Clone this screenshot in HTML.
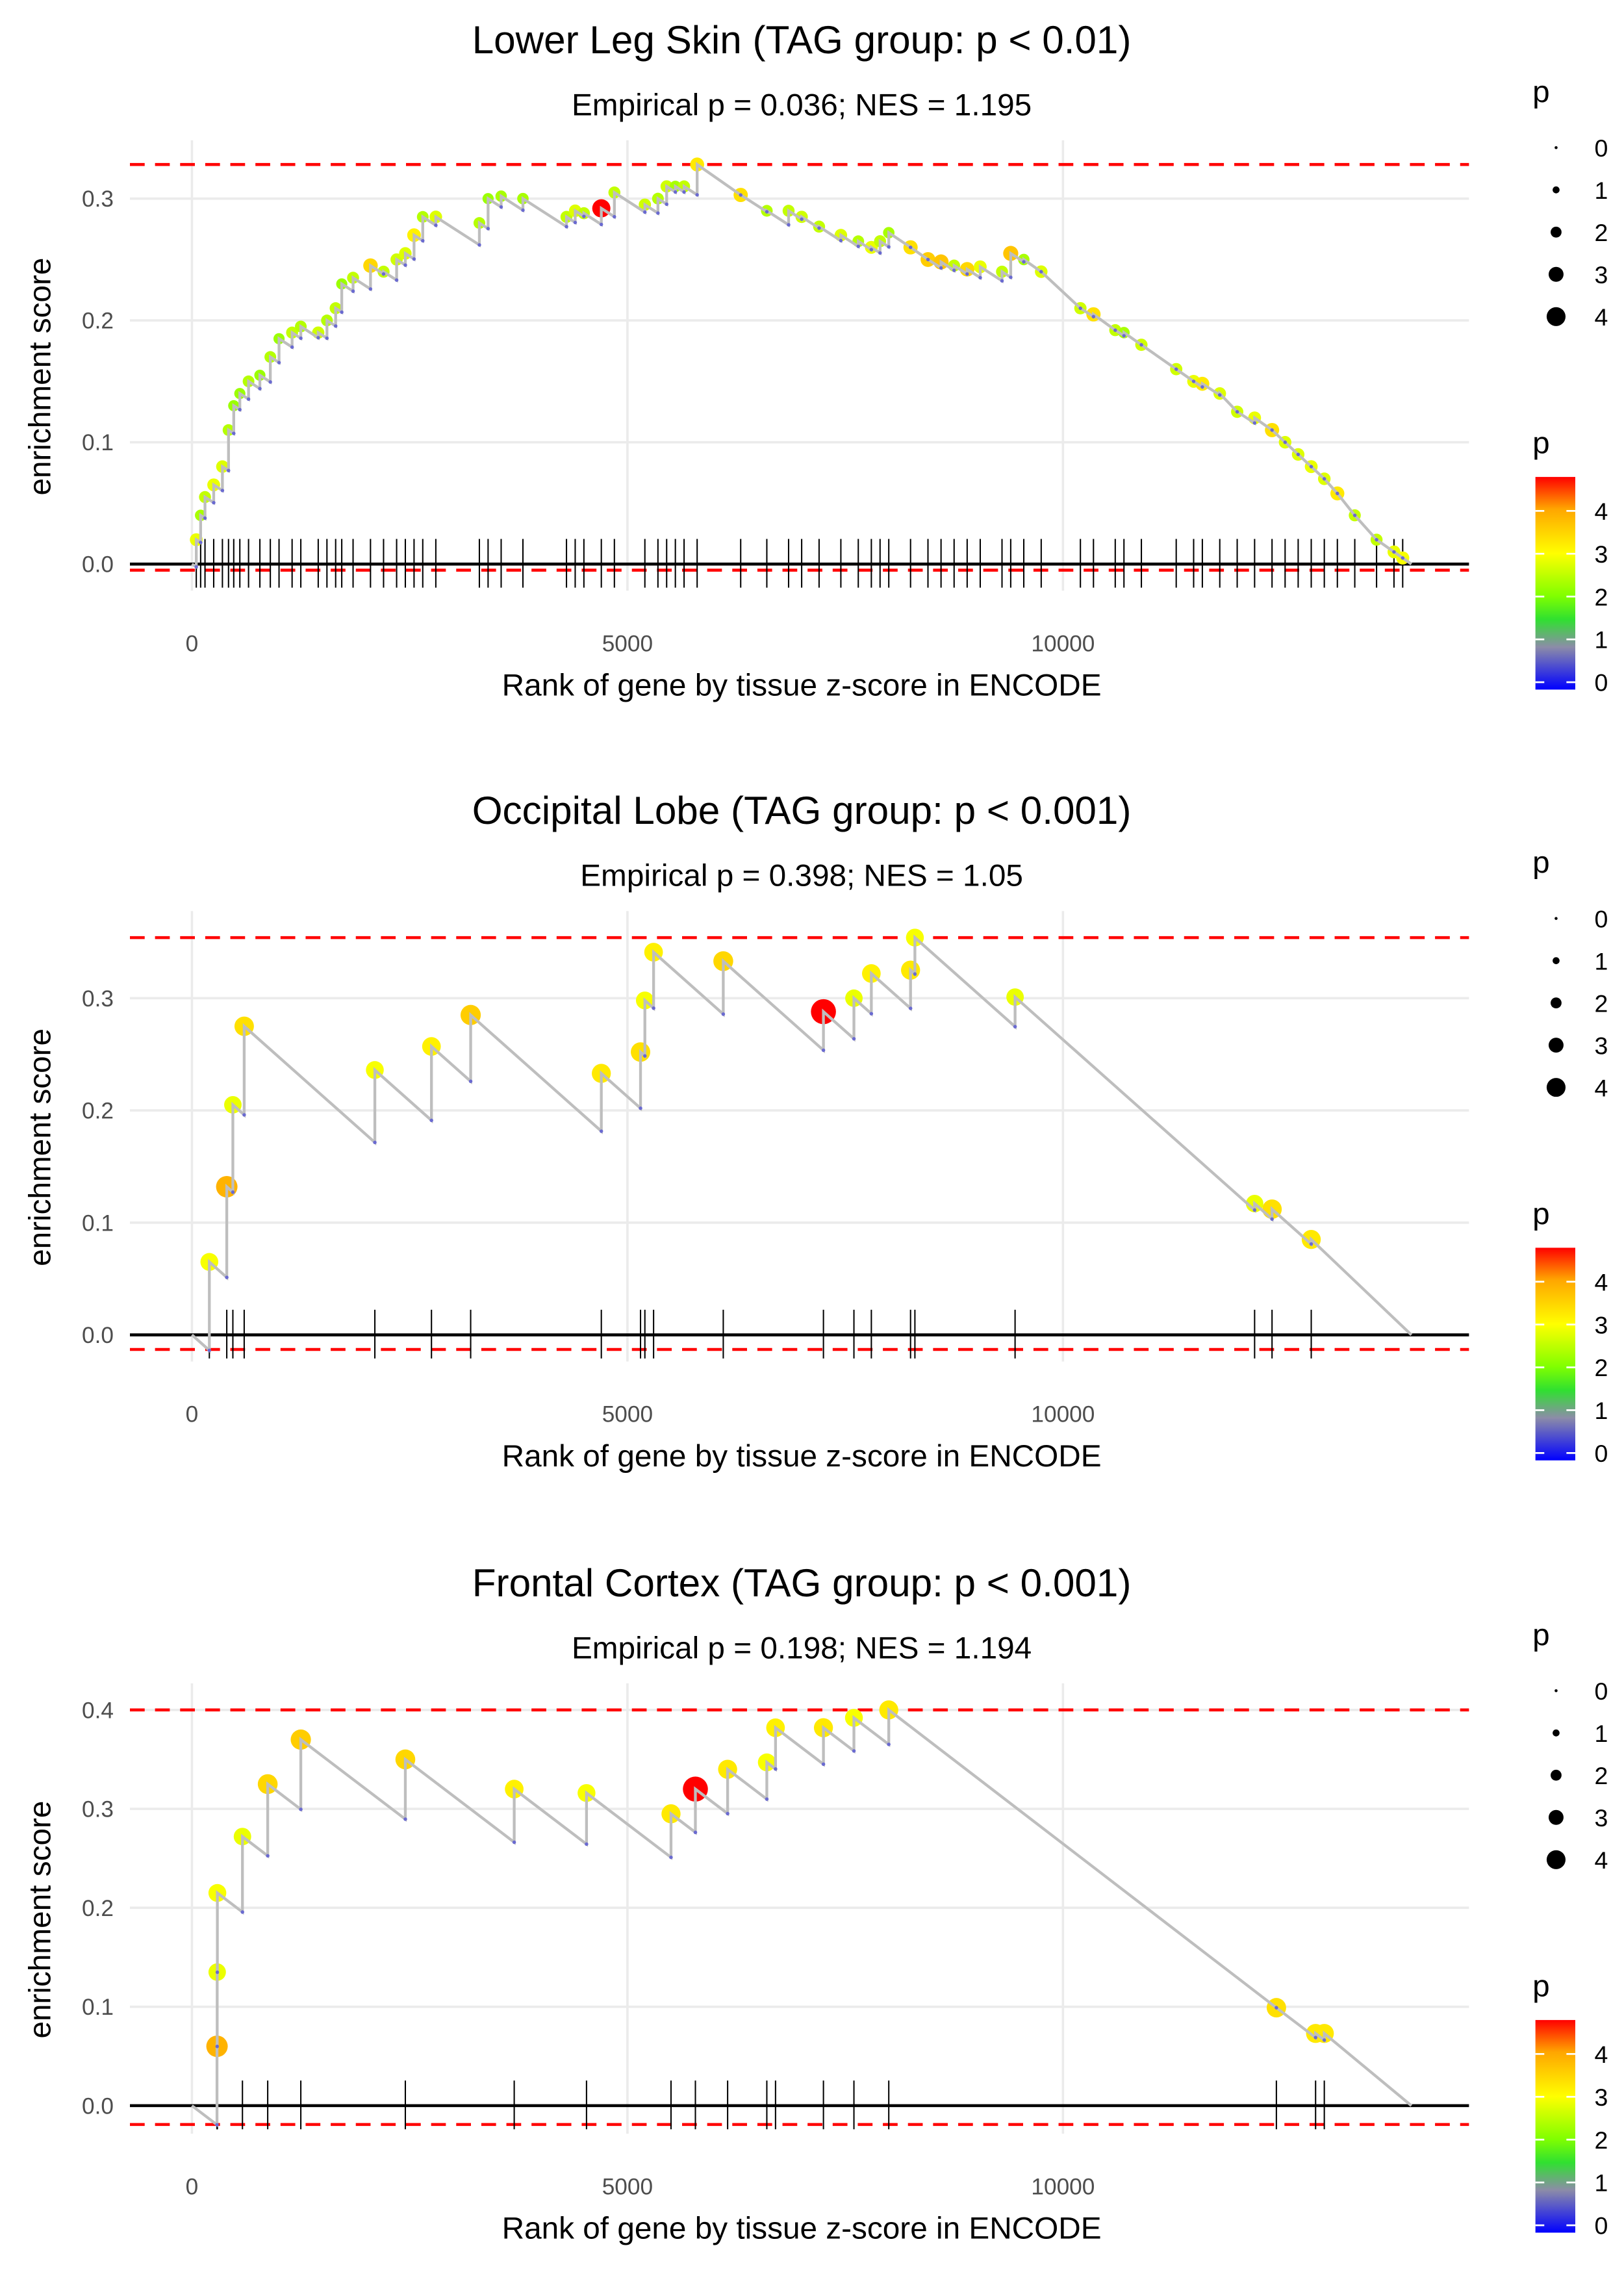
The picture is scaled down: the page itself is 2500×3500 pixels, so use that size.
<!DOCTYPE html>
<html><head><meta charset="utf-8"><style>
html,body{margin:0;padding:0;background:#fff;}
svg{display:block;font-family:"Liberation Sans",Arial,sans-serif;}
</style></head><body>
<svg id="chart" width="2500" height="3500" viewBox="0 0 1100 1540" xmlns="http://www.w3.org/2000/svg">
<defs>
<linearGradient id="pgrad" x1="0" y1="1" x2="0" y2="0">
<stop offset="0" stop-color="#0000ff"/>
<stop offset="0.2" stop-color="#8c8ca8"/>
<stop offset="0.33" stop-color="#30e030"/>
<stop offset="0.44" stop-color="#80ff00"/>
<stop offset="0.64" stop-color="#ffff00"/>
<stop offset="0.85" stop-color="#ffa500"/>
<stop offset="1" stop-color="#ff0000"/>
</linearGradient>
</defs>
</svg>
<script>
// ---------- data ----------
const xTicks = [0, 5000, 10000];
const nGenes = [14000, 14000, 14000];
const titles = ["Lower Leg Skin (TAG group: p < 0.01)", "Occipital Lobe (TAG group: p < 0.001)", "Frontal Cortex (TAG group: p < 0.001)"];
const subtitles = ["Empirical p = 0.036; NES = 1.195", "Empirical p = 0.398; NES = 1.05", "Empirical p = 0.198; NES = 1.194"];
const yTicks1 = [0.0, 0.1, 0.2, 0.3];
const yTicks2 = [0.0, 0.1, 0.2, 0.3];
const yTicks3 = [0.0, 0.1, 0.2, 0.3, 0.4];
const esMax = [0.328, 0.354, 0.4];
const esMin = [-0.005, -0.013, -0.019];
const decline = [4.6e-5, 6.9e-5, 6.7e-5];

const p1Rank = [50,100,150,250,350,420,480,550,650,780,900,1000,1150,1250,1450,1550,1650,1720,1850,2050,2200,2350,2450,2550,2650,2800,3300,3400,3550,3800,4300,4400,4500,4700,4850,5200,5350,5450,5550,5650,5800,6300,6600,6850,7000,7200,7450,7650,7800,7900,8000,8250,8450,8600,8750,8900,9050,9300,9400,9550,9750,10200,10350,10600,10700,10900,11300,11500,11600,11800,12000,12200,12400,12550,12700,12850,13000,13150,13350,13600,13800,13900];
const p1ES = [0.02,0.04,0.055,0.065,0.08,0.11,0.13,0.14,0.15,0.155,0.17,0.185,0.19,0.195,0.19,0.2,0.21,0.23,0.235,0.245,0.24,0.25,0.255,0.27,0.285,0.285,0.28,0.3,0.302,0.3,0.285,0.29,0.288,0.292,0.305,0.295,0.3,0.31,0.31,0.31,0.328,0.303,0.29,0.29,0.285,0.277,0.27,0.265,0.26,0.265,0.272,0.26,0.25,0.248,0.245,0.242,0.244,0.24,0.255,0.25,0.24,0.21,0.205,0.192,0.19,0.18,0.16,0.15,0.148,0.14,0.125,0.12,0.11,0.1,0.09,0.08,0.07,0.058,0.04,0.02,0.01,0.005];
const p1P = [2.9,2.4,2.6,2.9,2.8,2.5,2.3,2.3,2.5,2.3,2.5,2.3,2.6,2.5,2.7,2.5,2.6,2.3,2.6,3.5,2.6,2.7,2.8,3.2,2.5,2.8,2.5,2.3,2.4,2.4,2.6,2.8,2.6,4.8,2.6,2.7,2.5,2.7,2.4,2.6,3.3,3.4,2.5,2.6,2.7,2.6,2.8,2.5,2.9,2.6,2.4,3.4,3.6,3.7,2.6,3.5,2.9,2.6,3.7,2.4,2.8,2.7,3.4,2.6,2.4,2.7,2.7,2.9,3.3,2.8,2.7,2.9,3.4,2.8,2.8,2.9,2.8,3.3,2.6,2.6,2.9,3.0];

const p2Rank = [200,400,470,600,2100,2750,3200,4700,5150,5200,5300,6100,7250,7600,7800,8250,8300,9450,12200,12400,12850];
const p2ES = [0.065,0.132,0.205,0.275,0.236,0.257,0.285,0.233,0.252,0.298,0.341,0.333,0.288,0.300,0.322,0.325,0.354,0.301,0.117,0.112,0.085];
const p2P = [3.0,3.9,2.9,3.4,3.0,3.2,3.6,3.3,3.4,3.0,3.2,3.5,4.8,2.9,3.2,3.3,3.0,2.9,2.9,3.4,3.3];

const p3Rank = [288,290,292,580,870,1250,2450,3700,4530,5500,5780,6150,6600,6700,7250,7600,8000,12450,12900,13000];
const p3ES = [0.06,0.135,0.215,0.272,0.325,0.37,0.35,0.32,0.316,0.295,0.32,0.34,0.347,0.382,0.382,0.392,0.4,0.099,0.073,0.073];
const p3P = [3.9,2.9,3.0,2.9,3.5,3.6,3.5,3.2,3.0,3.3,4.8,3.3,3.0,3.2,3.3,3.0,3.3,3.4,3.3,3.3];

const legendP = [0, 1, 2, 3, 4];
const barLabels = [0, 1, 2, 3, 4];

// ---------- drawing ----------
const NS = "http://www.w3.org/2000/svg";
const svg = document.getElementById("chart");
function mk(tag, attrs, parent) {
  const e = document.createElementNS(NS, tag);
  for (const k in attrs) e.setAttribute(k, attrs[k]);
  (parent || svg).appendChild(e);
  return e;
}
const cStops = [[0,[0,0,255]],[1,[140,140,168]],[1.6,[48,224,48]],[2.1,[128,255,0]],[3.05,[255,255,0]],[4.05,[255,165,0]],[4.8,[255,0,0]]];
function pColor(p) {
  if (p <= 0) return "rgb(0,0,255)";
  for (let i = 1; i < cStops.length; i++) {
    if (p <= cStops[i][0]) {
      const a = cStops[i-1], b = cStops[i], t = (p - a[0]) / (b[0] - a[0]);
      const c = a[1].map((v, j) => Math.round(v + (b[1][j] - v) * t));
      return "rgb(" + c.join(",") + ")";
    }
  }
  return "rgb(255,0,0)";
}

const panels = [
  {off:0, y0:382, pxPer:825, yTicks:yTicks1, rank:p1Rank, es:p1ES, p:p1P, rA:1.6, rB:0.95},
  {off:522, y0:904, pxPer:760, yTicks:yTicks2, rank:p2Rank, es:p2ES, p:p2P, rA:2.0, rB:1.35},
  {off:1045, y0:1426, pxPer:670, yTicks:yTicks3, rank:p3Rank, es:p3ES, p:p3P, rA:2.0, rB:1.35}
];
const xLeft = 88, xRight = 995;
function xs(r) { return 130 + r / 5000 * 295; }

panels.forEach((P, k) => {
  const g = mk("g", {});
  
  
  const ys = v => P.y0 - v * P.pxPer;
  const top = P.off + 95, bot = P.off + 400;
  xTicks.forEach(t => {
    const l = mk("line", {x1:xs(t), x2:xs(t), y1:top, y2:bot, stroke:"#ebebeb", "stroke-width":1.6}, g);
    
    
  });
  P.yTicks.forEach(t => {
    const l = mk("line", {x1:xLeft, x2:xRight, y1:ys(t), y2:ys(t), stroke:"#ebebeb", "stroke-width":1.6}, g);
    
    
    const tx = mk("text", {x:77, y:ys(t) + 5.5, "text-anchor":"end", "font-size":15.5, fill:"#4d4d4d"}, g);
    tx.textContent = t.toFixed(1);
    
    
  });
  xTicks.forEach(t => {
    const tx = mk("text", {x:xs(t), y:P.off + 441, "text-anchor":"middle", "font-size":15.5, fill:"#4d4d4d"}, g);
    tx.textContent = String(t);
    
    
  });
  [esMax[k], esMin[k]].forEach((v, i) => {
    const l = mk("line", {x1:xLeft, x2:xRight, y1:ys(v), y2:ys(v), stroke:"#ff0000", "stroke-width":2, "stroke-dasharray":"10 7"}, g);
    
    
  });
  const z = mk("line", {x1:xLeft, x2:xRight, y1:ys(0), y2:ys(0), stroke:"#000", "stroke-width":2}, g);
  
  
  P.rank.forEach(r => {
    const l = mk("line", {x1:xs(r), x2:xs(r), y1:ys(0) - 17, y2:ys(0) + 16, stroke:"#000", "stroke-width":0.9}, g);
    
    
  });
  let prevR = 0, prevE = 0;
  const bottoms = [];
  let d = "M" + xs(0) + "," + ys(0);
  P.rank.forEach((r, i) => {
    let b = prevE - decline[k] * (r - prevR);
    if (b > P.es[i]) b = P.es[i];
    bottoms.push(b);
    d += " L" + xs(r).toFixed(2) + "," + ys(b).toFixed(2) + " L" + xs(r).toFixed(2) + "," + ys(P.es[i]).toFixed(2);
    prevR = r; prevE = P.es[i];
  });
  d += " L" + xs(nGenes[k]) + "," + ys(0);
  P.rank.forEach((r, i) => {
    const c = mk("circle", {cx:xs(r), cy:ys(P.es[i]), r:P.rA + P.rB * P.p[i], fill:pColor(P.p[i])}, g);
    
    
  });
  const path = mk("path", {d:d, fill:"none", stroke:"#bebebe", "stroke-width":1.9}, g);
  
  
  P.rank.forEach((r, i) => {
    const c = mk("circle", {cx:xs(r), cy:ys(bottoms[i]), r:1.2, fill:"#6a6ad0"}, g);
    
    
  });
  const t1 = mk("text", {x:543, y:P.off + 36, "text-anchor":"middle", "font-size":26.5, fill:"#000"}, g);
  t1.textContent = titles[k];
  
  
  const t2 = mk("text", {x:543, y:P.off + 78, "text-anchor":"middle", "font-size":21, fill:"#000"}, g);
  t2.textContent = subtitles[k];
  
  
  const xt = mk("text", {x:543, y:P.off + 471, "text-anchor":"middle", "font-size":21, fill:"#000"}, g);
  xt.textContent = "Rank of gene by tissue z-score in ENCODE";
  
  
  const yt = mk("text", {x:0, y:0, "text-anchor":"middle", "font-size":21, fill:"#000", transform:"translate(34," + (P.off + 255) + ") rotate(-90)"}, g);
  yt.textContent = "enrichment score";
  
  
  const lg = mk("g", {}, g);
  
  
  const lt = mk("text", {x:1038, y:P.off + 69, "font-size":21, fill:"#000"}, lg);
  lt.textContent = "p";
  
  
  legendP.forEach((v, i) => {
    const cy = P.off + 100 + i * 28.6;
    const c = mk("circle", {cx:1054, cy:cy, r:Math.max(1, 1 + 1.35 * v), fill:"#000"}, lg);
    
    
    const tx = mk("text", {x:1080, y:cy + 6, "font-size":16.5, fill:"#000"}, lg);
    tx.textContent = String(v);
    
    
  });
  const cg = mk("g", {}, g);
  
  
  const ct = mk("text", {x:1038, y:P.off + 307, "font-size":21, fill:"#000"}, cg);
  ct.textContent = "p";
  
  
  const bar = mk("rect", {x:1040, y:P.off + 323, width:27, height:144, fill:"url(#pgrad)"}, cg);
  
  
  barLabels.forEach(v => {
    const yy = P.off + 462 - v * 29;
    mk("line", {x1:1040, x2:1046, y1:yy, y2:yy, stroke:"#fff", "stroke-width":1.2}, cg);
    mk("line", {x1:1061, x2:1067, y1:yy, y2:yy, stroke:"#fff", "stroke-width":1.2}, cg);
    const tx = mk("text", {x:1080, y:yy + 6, "font-size":16.5, fill:"#000"}, cg);
    tx.textContent = String(v);
    
    
  });
});
</script>
</body></html>
